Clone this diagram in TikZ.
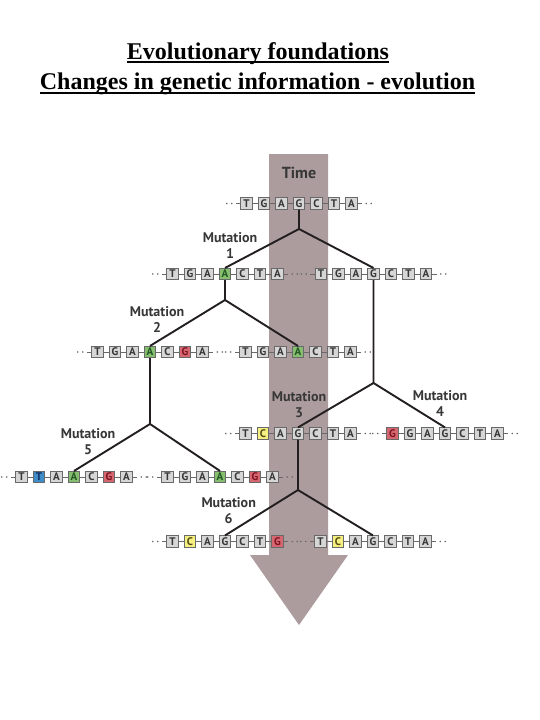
\documentclass[tikz,border=0pt]{standalone}
\usepackage{fontspec}
\setmainfont{Liberation Serif}
\newfontfamily\labfont{PT Sans}
\definecolor{bandc}{RGB}{172,156,158}
\definecolor{boxfill}{RGB}{214,214,214}
\definecolor{boxline}{RGB}{105,105,105}
\definecolor{ltr}{RGB}{55,55,55}
\definecolor{greenf}{RGB}{133,190,110}
\definecolor{greent}{RGB}{35,85,35}
\definecolor{redf}{RGB}{214,102,112}
\definecolor{redt}{RGB}{125,20,35}
\definecolor{yellowf}{RGB}{246,240,128}
\definecolor{yellowt}{RGB}{80,75,20}
\definecolor{bluef}{RGB}{62,140,200}
\definecolor{bluet}{RGB}{20,45,95}
\definecolor{treec}{RGB}{35,31,32}
\definecolor{labc}{RGB}{55,55,55}
\definecolor{linkc}{RGB}{105,105,105}
\newcommand{\ulx}[1]{\setbox0\hbox{#1}\rlap{\rule[-4.2pt]{\wd0}{1.7pt}}\box0}
\newcommand{\dnaseq}[4]{%
  \foreach \l/\s [count=\i] in {#4} {
    \node[basebox,\s] (#1-\i) at ({#2+(\i-4)*17.5},#3) {\l};
  }
  \foreach \i [evaluate=\i as \j using int(\i+1)] in {1,...,6} {
    \draw[link] (#1-\i.east) -- (#1-\j.west);
  }
  \draw[link] (#1-1.west) -- ++(-4.5,0);
  \draw[link] (#1-7.east) -- ++(4.5,0);
  \fill[linkc] ([xshift=-8.5pt]#1-1.west) circle (0.85);
  \fill[linkc] ([xshift=-13.5pt]#1-1.west) circle (0.85);
  \fill[linkc] ([xshift=8.5pt]#1-7.east) circle (0.85);
  \fill[linkc] ([xshift=13.5pt]#1-7.east) circle (0.85);
}
\tikzset{
  basebox/.style={draw=boxline, fill=boxfill, line width=0.9pt, minimum width=11.7pt,
    minimum height=11.2pt, inner sep=0pt, text=ltr,
    font=\labfont\bfseries\fontsize{11}{12}\selectfont},
  nn/.style={},
  mgreen/.style={fill=greenf, text=greent},
  mred/.style={fill=redf, text=redt},
  myellow/.style={fill=yellowf, text=yellowt},
  mblue/.style={fill=bluef, text=bluet},
  link/.style={draw=linkc, line width=1pt},
  tree/.style={draw=treec, line width=1.9pt, line join=round},
  mlab/.style={align=center, inner sep=0pt, text=labc,
    font=\labfont\bfseries\fontsize{14}{16}\selectfont},
  timel/.style={inner sep=0pt, text=labc, font=\labfont\bfseries\fontsize{16}{18}\selectfont},
  ttl/.style={inner sep=0pt, anchor=base, font=\bfseries\fontsize{24}{28}\selectfont}
}
\begin{document}
\begin{tikzpicture}[x=1pt,y=-1pt]
\useasboundingbox[fill=white] (0,0) rectangle (540,720);
% titles
\node[ttl] (t1) at (258,59) {\ulx{Evolutionary foundations}};
\node[ttl] (t2) at (257.5,89.5) {\ulx{Changes in genetic information - evolution}};
% time band
\fill[bandc] (269,154) -- (328,154) -- (328,555) -- (348,555) -- (299,625) -- (250,555) -- (269,555) -- cycle;
\node[timel] (time) at (299,173) {Time};
% sequences
\dnaseq{s0}{299}{203.5}{T/nn,G/nn,A/nn,G/nn,C/nn,T/nn,A/nn}
\dnaseq{s1a}{225}{274}{T/nn,G/nn,A/nn,A/mgreen,C/nn,T/nn,A/nn}
\dnaseq{s1b}{373.5}{274}{T/nn,G/nn,A/nn,G/nn,C/nn,T/nn,A/nn}
\dnaseq{s2a}{150}{352}{T/nn,G/nn,A/nn,A/mgreen,C/nn,G/mred,A/nn}
\dnaseq{s2b}{298}{352}{T/nn,G/nn,A/nn,A/mgreen,C/nn,T/nn,A/nn}
\dnaseq{s3}{298}{433.5}{T/nn,C/myellow,A/nn,G/nn,C/nn,T/nn,A/nn}
\dnaseq{s4}{445}{433.5}{G/mred,G/nn,A/nn,G/nn,C/nn,T/nn,A/nn}
\dnaseq{s5a}{74}{477}{T/nn,T/mblue,A/nn,A/mgreen,C/nn,G/mred,A/nn}
\dnaseq{s5b}{220}{477}{T/nn,G/nn,A/nn,A/mgreen,C/nn,G/mred,A/nn}
\dnaseq{s6a}{225}{541.5}{T/nn,C/myellow,A/nn,G/nn,C/nn,T/nn,G/mred}
\dnaseq{s6b}{373}{541.5}{T/nn,C/myellow,A/nn,G/nn,C/nn,T/nn,A/nn}
% branch points
\coordinate (b0) at (s0-4.south |- 0,229);
\coordinate (b1) at (s1a-4.south |- 0,300);
\coordinate (b2) at (s1b-4.south |- 0,383);
\coordinate (b3) at (s2a-4.south |- 0,424);
\coordinate (b4) at (s3-4.south |- 0,490);
% tree
\draw[tree] (s0-4.south) -- (b0) -- (s1a-4.north);
\draw[tree] (b0) -- (s1b-4.north);
\draw[tree] (s1a-4.south) -- (b1) -- (s2a-4.north);
\draw[tree] (b1) -- (s2b-4.north);
\draw[tree] (s1b-4.south) -- (b2) -- (s3-4.north);
\draw[tree] (b2) -- (s4-4.north);
\draw[tree] (s2a-4.south) -- (b3) -- (s5a-4.north);
\draw[tree] (b3) -- (s5b-4.north);
\draw[tree] (s3-4.south) -- (b4) -- (s6a-4.north);
\draw[tree] (b4) -- (s6b-4.north);
% mutation labels
\node[mlab] (m1) at (230,246) {Mutation\\1};
\node[mlab] (m2) at (157,319.5) {Mutation\\2};
\node[mlab] (m3) at (299,405) {Mutation\\3};
\node[mlab] (m4) at (440,403.4) {Mutation\\4};
\node[mlab] (m5) at (88,441.7) {Mutation\\5};
\node[mlab] (m6) at (228.7,510.7) {Mutation\\6};
\end{tikzpicture}
\end{document}
